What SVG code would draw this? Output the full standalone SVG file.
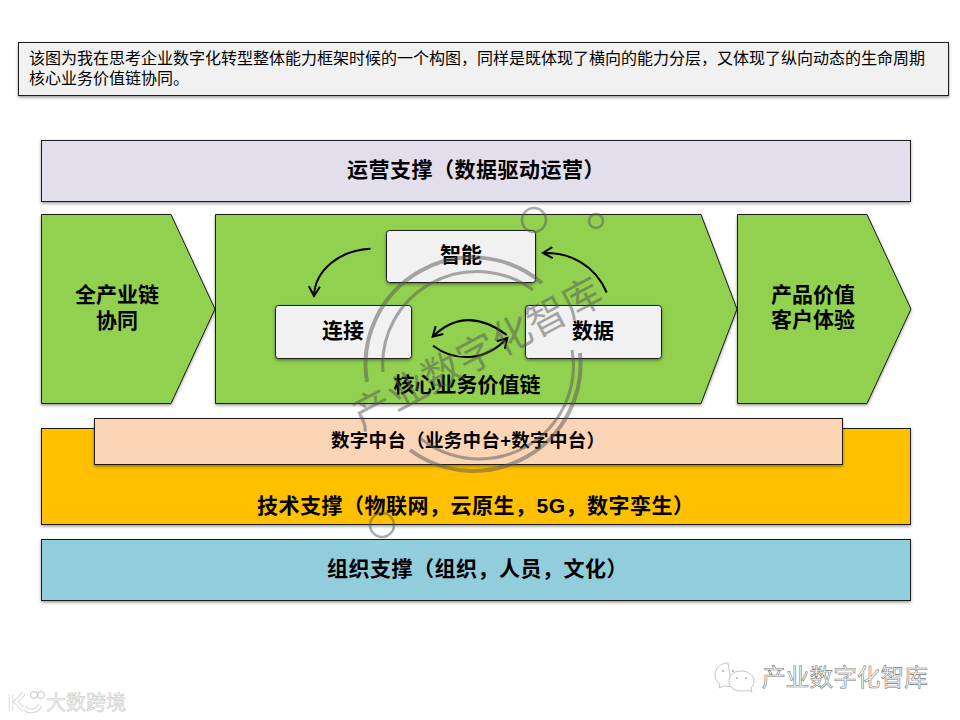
<svg xmlns="http://www.w3.org/2000/svg" width="960" height="720" viewBox="0 0 960 720">
<defs>
<filter id="sh" x="-5%" y="-10%" width="110%" height="125%"><feDropShadow dx="0" dy="1.5" stdDeviation="1.5" flood-color="#000" flood-opacity="0.4"/></filter>
<marker id="ah" markerWidth="14" markerHeight="14" refX="11" refY="7" orient="auto" markerUnits="userSpaceOnUse"><path d="M1.500 1.500L11 7L1.500 12.500" fill="none" stroke="#000" stroke-width="2"/></marker>
</defs>
<style>
text{font-family:"Liberation Sans","Noto Sans CJK SC",sans-serif;text-anchor:middle;fill:#000}
.b{font-weight:700;font-size:21px}
.s{text-anchor:start;letter-spacing:.5px}
.box{stroke:#1a1a1a;stroke-width:1;filter:url(#sh)}
.c{fill:none;stroke:#000;stroke-width:2;marker-end:url(#ah)}
.wm{fill:none;stroke:#555;stroke-opacity:.5}
.lg{fill:#fff;stroke:#b5b5b5;stroke-width:.8}
</style>
<rect width="960" height="720" fill="#fff"/>
<g id="intro"><rect class="box" x="18.500" y="42.500" width="930" height="53" fill="#f1f1f1"/>
<text x="29" y="64" font-size="16" style="text-anchor:start">该图为我在思考企业数字化转型整体能力框架时候的一个构图，同样是既体现了横向的能力分层，又体现了纵向动态的生命周期</text>
<text x="29" y="84" font-size="16" style="text-anchor:start">核心业务价值链协同。</text></g>
<g id="ops"><rect class="box" x="41.500" y="140.500" width="869" height="61" fill="#e3deeb"/><text class="b s" x="347" y="177">运营支撑（数据驱动运营）</text></g>
<g id="chain-left"><path class="box" d="M41.500 214.500H171L215 309L171 403.500H41.500Z" fill="#92d050"/><text class="b" x="117" y="302">全产业链</text><text class="b" x="117" y="328">协同</text></g>
<g id="chain-core"><path class="box" d="M215.500 214.500H701L737 309L701 403.500H215.500Z" fill="#92d050"/><text class="b" x="467" y="392">核心业务价值链</text></g>
<g id="chain-right"><path class="box" d="M737.500 214.500H867L911 309L867 403.500H737.500Z" fill="#92d050"/><text class="b" x="813" y="302">产品价值</text><text class="b" x="813" y="327">客户体验</text></g>
<g id="zhineng"><rect class="box" x="386.500" y="230.500" width="149" height="52" rx="3" fill="#f1f1f1"/><text class="b" x="461" y="262">智能</text></g>
<g id="lianjie"><rect class="box" x="275.500" y="305.500" width="136" height="53" rx="3" fill="#f1f1f1"/><text class="b" x="343" y="338">连接</text></g>
<g id="shuju"><rect class="box" x="525.500" y="305.500" width="136" height="53" rx="3" fill="#f1f1f1"/><text class="b" x="593" y="338">数据</text></g>
<g id="connectors">
<path class="c" d="M370.500 248.700C340 250 315 270 314 296"/>
<path class="c" d="M606.700 292.500C595 265 570 252 543 253"/>
<path class="c" d="M506.700 335C480 315 455 315 432.700 336.700"/>
<path class="c" d="M433 345.700C455 362 485 362 507.300 338"/>
</g>
<g id="tech"><rect class="box" x="41.500" y="428.500" width="869" height="96" fill="#ffc000"/><text class="b s" x="257" y="513">技术支撑（物联网，云原生，5G，数字孪生）</text></g>
<g id="middle"><rect class="box" x="94.500" y="418.500" width="748" height="46" fill="#fbd5b5"/><text class="s" x="331" y="447" font-size="18.500" font-weight="700" style="letter-spacing:.3px">数字中台（业务中台+数字中台）</text></g>
<g id="org"><rect class="box" x="41.500" y="539.500" width="869" height="61" fill="#92cddc"/><text class="b s" x="327" y="576">组织支撑（组织，人员，文化）</text></g>
<g id="stamp">
<path class="wm" stroke-width="4" d="M367 382A107 107 0 0 1 542 283M580 353A107 107 0 0 1 410 450"/>
<path class="wm" stroke-width="3" d="M383 372A94 93 0 0 1 533 290M572 350A94 93 0 0 1 420 438"/>
<circle class="wm" cx="534" cy="220" r="12" stroke-width="2.500"/>
<circle class="wm" cx="596" cy="221" r="7" stroke-width="2.500"/>
<circle class="wm" cx="382" cy="525" r="12" stroke-width="2.500"/>
<text x="0" y="0" font-size="39.500" transform="translate(483.500 366) rotate(-28)" style="fill:#555;fill-opacity:.5;font-weight:400">产业数字化智库</text>
</g>
<g id="marks">
<text x="845" y="686" font-size="23.700" style="fill:#fff;stroke:#777;stroke-width:.6">产业数字化智库</text>
<path class="lg" d="M728 663C720 663 715 669 715 675C715 679 717 682 720 684L719 688L724 686L732 687Z"/>
<path class="lg" d="M741 671C733 671 729 676 729 681C729 687 734 691 741 691C744 691 746 691 748 690L752 692L751 688C753 686 754 684 754 681C754 676 749 671 741 671Z"/>
<circle cx="723" cy="671" r="1" fill="#aaa"/><circle cx="733" cy="671" r="1" fill="#aaa"/><circle cx="737" cy="678" r="1" fill="#aaa"/><circle cx="746" cy="678" r="1" fill="#aaa"/>
<path d="M11 694V711M24 693L16 702L24 710M24 707C28 713 37 712 40 705" fill="none" stroke="#cfcfcf" stroke-width="4.500"/>
<path d="M11 694V711M24 693L16 702L24 710M24 707C28 713 37 712 40 705" fill="none" stroke="#fff" stroke-width="3"/>
<circle class="lg" cx="34" cy="695" r="3.500"/><circle class="lg" cx="41" cy="695" r="3.500"/>
<text x="86" y="710" font-size="20" style="fill:#f5f5f5;stroke:#ccc;stroke-width:.6">大数跨境</text>
</g>
</svg>
